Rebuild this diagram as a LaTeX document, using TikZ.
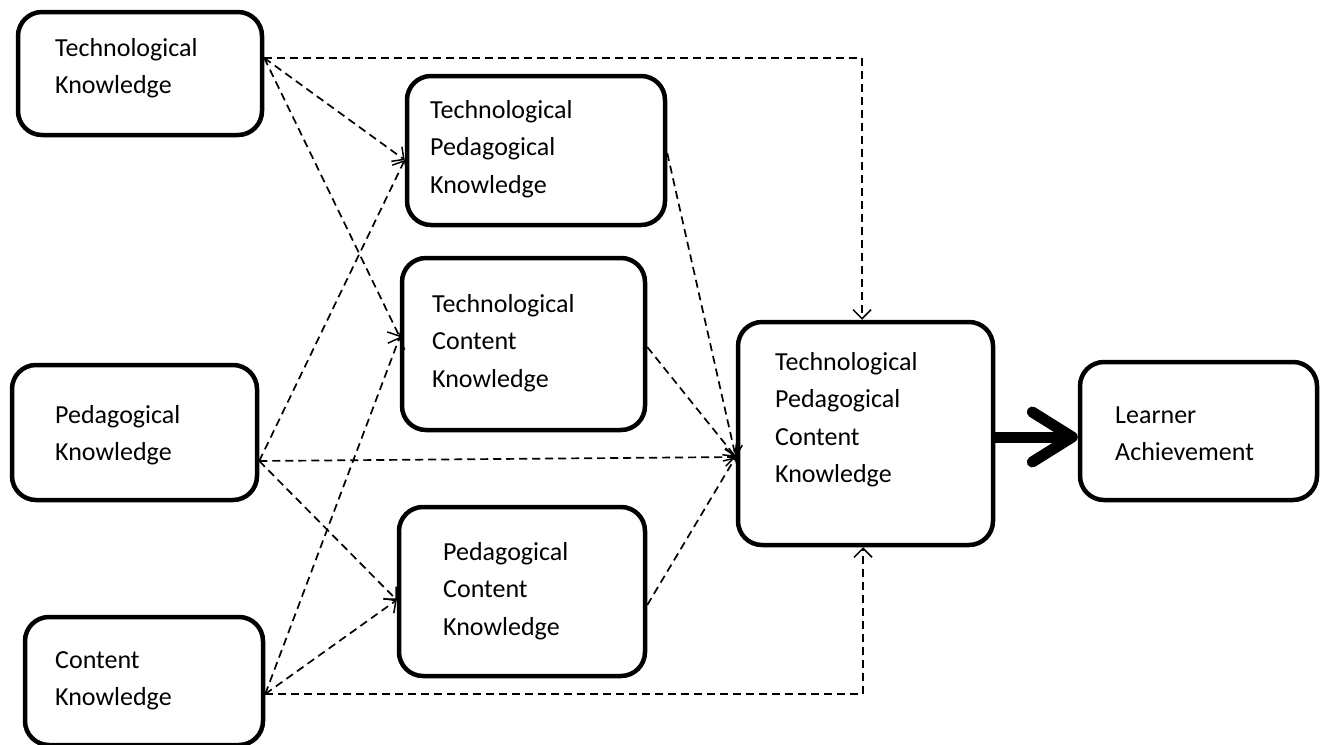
\documentclass[tikz,border=0pt]{standalone}
\usepackage{fontspec}
\setmainfont{Carlito}
\usetikzlibrary{arrows.meta}
\newcommand{\twolines}[2]{\vtop{\hbox{#1}\hbox{#2}}}
\newcommand{\threelines}[3]{\vtop{\hbox{#1}\hbox{#2}\hbox{#3}}}
\newcommand{\fourlines}[4]{\vtop{\hbox{#1}\hbox{#2}\hbox{#3}\hbox{#4}}}
\begin{document}
\begin{tikzpicture}[x=1pt,y=-1pt,
  kbox/.style={draw, line width=4.5pt, rounded corners=24pt, inner sep=0pt, fill=white},
  txt/.style={anchor=base west, inner sep=0pt, font=\fontsize{26}{37.5}\selectfont},
  link/.style={draw, dash pattern=on 8pt off 5pt, line width=1.7pt,
    -{Straight Barb[length=9pt,width=18pt,line width=1.5pt]}},
  bigarrow/.style={draw, line width=11pt,
    -{Straight Barb[length=40pt,width=50pt,round]}}]
\useasboundingbox (0,0) rectangle (1327,744);
% boxes
\node[kbox, minimum width=244pt, minimum height=123pt] (tk) at (140,73.5) {};
\node[kbox, minimum width=258pt, minimum height=149pt] (tpk) at (536,150.5) {};
\node[kbox, minimum width=243pt, minimum height=172pt] (tck) at (523.5,344) {};
\node[kbox, minimum width=245pt, minimum height=135pt] (pk) at (134.5,432.5) {};
\node[kbox, minimum width=246pt, minimum height=169pt] (pck) at (522,591.5) {};
\node[kbox, minimum width=238pt, minimum height=128pt] (ck) at (144,681) {};
\node[kbox, minimum width=255pt, minimum height=223pt] (tpck) at (865.5,433.5) {};
\node[kbox, minimum width=237pt, minimum height=138pt] (la) at (1198.5,431) {};
% texts
\node[txt] (tkt) at (55,56) {\twolines{Technological}{Knowledge}};
\node[txt] (tpkt) at (430,118) {\threelines{Technological}{Pedagogical}{Knowledge}};
\node[txt] (tckt) at (432,312) {\threelines{Technological}{Content}{Knowledge}};
\node[txt] (pkt) at (55,423) {\twolines{Pedagogical}{Knowledge}};
\node[txt] (pckt) at (443,560) {\threelines{Pedagogical}{Content}{Knowledge}};
\node[txt] (ckt) at (55,668) {\twolines{Content}{Knowledge}};
\node[txt] (tpckt) at (775,370) {\fourlines{Technological}{Pedagogical}{Content}{Knowledge}};
\node[txt] (lat) at (1115,423) {\twolines{Learner}{Achievement}};
% dashed connectors
\draw[link] ([yshift=15.5pt]tk.east) -| ([xshift=-3.5pt]tpck.north);
\draw[link] ([yshift=15.5pt]tk.east) -- ([yshift=-9.5pt]tpk.west);
\draw[link] ([yshift=15.5pt]tk.east) -- ([yshift=7pt]tck.west);
\draw[link] ([yshift=-28.5pt]pk.east) -- ([yshift=-9.5pt]tpk.west);
\draw[link] ([yshift=-28.5pt]pk.east) -- ([yshift=-23.5pt]tpck.west);
\draw[link] ([yshift=-28.5pt]pk.east) -- ([yshift=-8.5pt]pck.west);
\draw[link] ([yshift=-13pt]ck.east) -- ([yshift=7pt]tck.west);
\draw[link] ([yshift=-13pt]ck.east) -- ([yshift=-8.5pt]pck.west);
\draw[link] ([yshift=-13pt]ck.east) -| ([xshift=-2.5pt]tpck.south);
\draw[link] ([yshift=-2.5pt]tpk.east) -- ([yshift=-23.5pt]tpck.west);
\draw[link] ([yshift=-3pt]tck.east) -- ([yshift=-23.5pt]tpck.west);
\draw[link] ([yshift=-13.5pt]pck.east) -- ([yshift=-23.5pt]tpck.west);
% thick arrow
\draw[bigarrow] ([yshift=-3.5pt]tpck.east) -- ([yshift=-6pt]la.west);
\end{tikzpicture}
\end{document}
